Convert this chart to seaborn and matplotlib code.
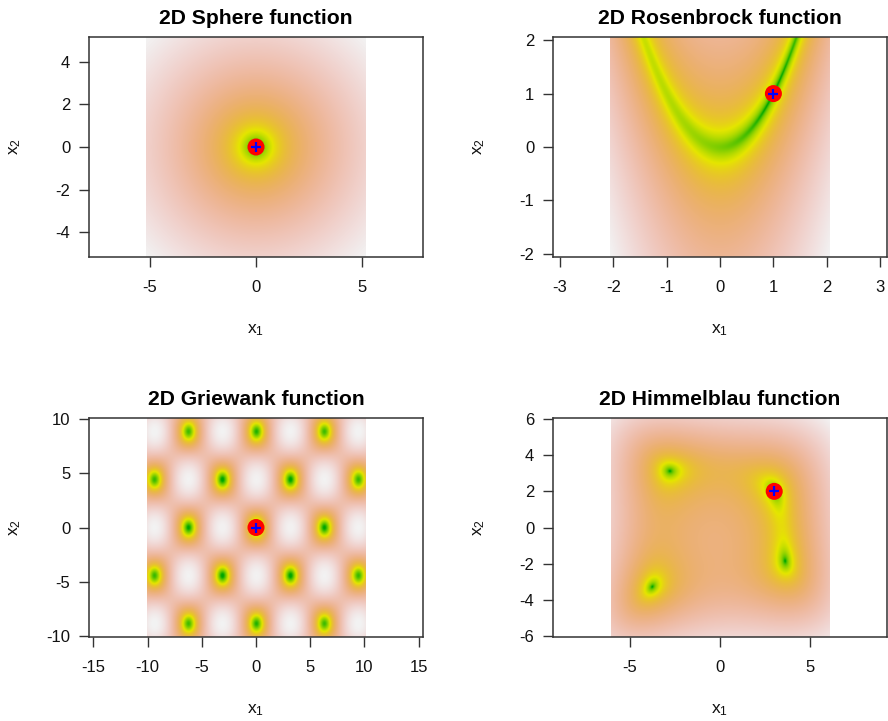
import numpy as np
import matplotlib
matplotlib.use("Agg")
import matplotlib.pyplot as plt
import seaborn as sns
import pandas as pd
from matplotlib.colors import ListedColormap, hsv_to_rgb

# ---- chart content ----
titles = ["2D Sphere function", "2D Rosenbrock function",
          "2D Griewank function", "2D Himmelblau function"]
half_ranges = [5.17, 2.06, 10.1, 6.06]          # image extent (+/-)
min_x1 = [0, 1, 0, 3]                            # global minimum marked
min_x2 = [0, 1, 0, 2]
x_ticks = [[-5, 0, 5], [-3, -2, -1, 0, 1, 2, 3],
           [-15, -10, -5, 0, 5, 10, 15], [-5, 0, 5]]
y_ticks = [[-4, -2, 0, 2, 4], [-2, -1, 0, 1, 2],
           [-10, -5, 0, 5, 10], [-6, -4, -2, 0, 2, 4, 6]]
f_floor = [0.008, 0.03, 0.013, 0.05]             # lower end of log colour scale


def sphere(x, y):
    return x ** 2 + y ** 2


def rosenbrock(x, y):
    return (1 - x) ** 2 + 100 * (y - x ** 2) ** 2


def griewank(x, y):
    return 1 + (x ** 2 + y ** 2) / 4000 - np.cos(x) * np.cos(y / np.sqrt(2))


def himmelblau(x, y):
    return (x ** 2 + y - 11) ** 2 + (x + y ** 2 - 7) ** 2


funcs = [sphere, rosenbrock, griewank, himmelblau]


def terrain_colors(n=256):
    k = n // 2
    h = np.concatenate([np.linspace(4 / 12, 2 / 12, k), np.linspace(2 / 12, 0, n - k + 1)[1:]])
    s = np.concatenate([np.ones(k), np.linspace(1, 0, n - k + 1)[1:]])
    v = np.concatenate([np.linspace(0.65, 0.9, k), np.linspace(0.9, 0.95, n - k + 1)[1:]])
    return ListedColormap(hsv_to_rgb(np.stack([h, s, v], axis=1)))


cmap = terrain_colors(256)

sns.set_style("ticks")
plt.rcParams["font.family"] = ["Liberation Sans", "DejaVu Sans"]
plt.rcParams["mathtext.fontset"] = "custom"
plt.rcParams["mathtext.rm"] = "Liberation Sans"
plt.rcParams["mathtext.it"] = "Liberation Sans"
plt.rcParams["mathtext.default"] = "regular"

W, H = 888, 721
fig = plt.figure(figsize=(W / 100, H / 100), dpi=100)
fig.patch.set_facecolor("white")

# axes boxes in pixels: left, top, right, bottom
boxes = [(89, 37, 423, 257), (553, 37, 887, 257),
         (89, 418, 423, 637), (553, 418, 887, 637)]

for i in range(4):
    l, t, r, b = boxes[i]
    bw, bh = r - l, b - t
    ax = fig.add_axes([l / W, 1 - b / H, bw / W, bh / H])
    hr = half_ranges[i]
    n = 500
    g = np.linspace(-hr, hr, n)
    X, Y = np.meshgrid(g, g)
    F = funcs[i](X, Y)
    Z = np.log(np.maximum(F, f_floor[i]))
    ax.imshow(Z, extent=[-hr, hr, -hr, hr], origin="lower", cmap=cmap,
              vmin=np.log(f_floor[i]), vmax=Z.max(), interpolation="bilinear",
              aspect="auto", zorder=1)
    xr = hr * bw / bh
    ax.set_xlim(-xr, xr)
    ax.set_ylim(-hr, hr)
    ax.set_facecolor("white")

    pts = pd.DataFrame({"x1": [min_x1[i]], "x2": [min_x2[i]]})
    sns.scatterplot(data=pts, x="x1", y="x2", ax=ax, s=150, color="#ff0000",
                    edgecolor="none", zorder=3)
    sns.scatterplot(data=pts, x="x1", y="x2", ax=ax, s=60, marker="+",
                    color="#0000ff", linewidth=1.6, zorder=4)

    ax.set_xticks(x_ticks[i])
    ax.set_yticks(y_ticks[i])
    ax.set_xticklabels([str(v) for v in x_ticks[i]])
    ax.set_yticklabels([str(v) for v in y_ticks[i]])
    ax.tick_params(axis="both", direction="out", length=7.5, width=1.0,
                   color="#333333", labelsize=12, labelcolor="#111111")
    ax.tick_params(axis="x", pad=9)
    ax.tick_params(axis="y", pad=6)
    for sp in ax.spines.values():
        sp.set_visible(True)
        sp.set_linewidth(1.1)
        sp.set_color("#333333")
    ax.set_xlabel("")
    ax.set_ylabel("")
    ax.text(0.5, -73 / bh, "x$_1$", transform=ax.transAxes, ha="center",
            va="center", fontsize=12.5, color="#111111")
    ax.text(-74 / bw, 0.5, "x$_2$", transform=ax.transAxes, ha="center",
            va="center", rotation=90, fontsize=12.5, color="#111111")
    ax.set_title(titles[i], fontsize=15.2, fontweight="bold", pad=9.5,
                 color="#000000")

fig.savefig("out.png", dpi=100, facecolor="white")
